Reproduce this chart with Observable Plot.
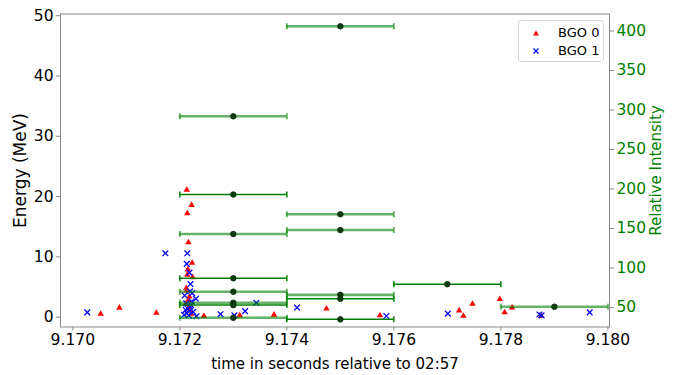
<!DOCTYPE html>
<html><head><meta charset="utf-8">
<script src="https://cdn.jsdelivr.net/npm/d3@7"></script>
<script src="https://cdn.jsdelivr.net/npm/@observablehq/plot@0.6"></script>
<style>
body{margin:0;background:#fff;font-family:"DejaVu Sans",sans-serif}
#wrap{position:relative;width:674px;height:375px}
.legend{position:absolute;left:518px;top:20px;width:84px;height:40px;border:1px solid #d6d6d6;border-radius:3px;background:rgba(255,255,255,0.85);font-size:13px;color:#000;font-family:"DejaVu Sans",sans-serif}
.legend .row{position:absolute;left:0;height:16px;line-height:16px;white-space:nowrap}
.legend svg{position:absolute;left:13px;top:4px}
.legend span{position:absolute;left:39px;top:0}
</style></head><body><div id="wrap"></div>
<script>
// ---- scatter data: BGO 0 (red triangles)
const bgo0Time = [9.17052,9.17087,9.17156,9.17213,9.17222,9.17214,9.17216,9.17223,9.17215,9.17214,9.17224,9.17212,9.17213,9.17218,9.17216,9.17211,9.17216,9.17219,9.17221,9.17245,9.17312,9.17376,9.17474,9.17574,9.17722,9.17730,9.17747,9.17798,9.17807,9.17821,9.17875];
const bgo0Energy = [0.55,1.55,0.7,21.1,18.6,17.2,12.4,9.0,7.9,7.0,6.6,4.8,4.4,3.4,2.8,2.2,1.55,1.2,0.55,0.2,0.3,0.4,1.4,0.3,1.1,0.2,2.2,3.0,0.8,1.6,0.2];
// ---- scatter data: BGO 1 (blue crosses)
const bgo1Time = [9.17027,9.17173,9.17214,9.17213,9.17218,9.17220,9.17219,9.17223,9.17209,9.17230,9.17222,9.17212,9.17221,9.17219,9.17215,9.17211,9.17218,9.17225,9.17213,9.17208,9.17231,9.17217,9.17276,9.17302,9.17322,9.17343,9.17419,9.17586,9.17701,9.17872,9.17876,9.17966];
const bgo1Energy = [0.8,10.6,10.6,8.85,7.4,5.5,4.3,4.0,3.6,3.05,2.6,2.3,2.0,1.8,1.4,1.2,1.0,0.9,0.65,0.4,0.15,0.3,0.5,0.3,1.0,2.4,1.6,0.2,0.6,0.45,0.3,0.8];
// ---- relative intensity per time bin (two overlaid series)
const binHalfWidth = 0.001;
const seriesATime = [9.173,9.173,9.173,9.175,9.175,9.177];
const seriesAIntensity = [193,87,53,61,35,79.5];
const seriesBTime = [9.175,9.173,9.175,9.175,9.173,9.173,9.173,9.173,9.175,9.179];
const seriesBIntensity = [406,292,168,148,143,70,56,37,66,51];
// ---- axes
const xTicks = [9.170,9.172,9.174,9.176,9.178,9.180];
const energyTicks = [0,10,20,30,40,50];
const intensityTicks = [50,100,150,200,250,300,350,400];
const xDomain = [9.16977,9.18003];
const energyDomain = [-1.625,50.28];
const intensityDomain = [25.3,421.5];

const toE = I => energyDomain[0] + (I - intensityDomain[0]) / (intensityDomain[1] - intensityDomain[0]) * (energyDomain[1] - energyDomain[0]);
const toI = E => intensityDomain[0] + (E - energyDomain[0]) / (energyDomain[1] - energyDomain[0]) * (intensityDomain[1] - intensityDomain[0]);

const bgo0 = bgo0Time.map((t,i)=>({t, e:bgo0Energy[i]}));
const bgo1 = bgo1Time.map((t,i)=>({t, e:bgo1Energy[i]}));
const binsA = seriesATime.map((t,i)=>({t, lo:t-binHalfWidth, hi:t+binHalfWidth, e:toE(seriesAIntensity[i])}));
const binsB = seriesBTime.map((t,i)=>({t, lo:t-binHalfWidth, hi:t+binHalfWidth, e:toE(seriesBIntensity[i])}));
const capsA = binsA.flatMap(d=>[{t:d.lo,e:d.e},{t:d.hi,e:d.e}]);
const capsB = binsB.flatMap(d=>[{t:d.lo,e:d.e},{t:d.hi,e:d.e}]);
const capSymbol = {draw(ctx,size){const r=Math.sqrt(size/Math.PI);ctx.moveTo(0,-r);ctx.lineTo(0,r);}};

const font = "DejaVu Sans";
const chart = Plot.plot({
  width: 674, height: 375,
  marginLeft: 60, marginRight: 65, marginTop: 13.5, marginBottom: 48.5,
  style: {fontFamily: font, background: "white", overflow: "visible"},
  x: {type: "linear", domain: xDomain, axis: null},
  y: {type: "linear", domain: energyDomain, axis: null},
  marks: [
    Plot.dot(bgo0, {x:"t", y:"e", symbol:"triangle", fill:"red", r:2.4}),
    Plot.dot(bgo1, {x:"t", y:"e", symbol:"times", stroke:"blue", r:2.7, strokeWidth:1.3}),
    Plot.ruleY(binsB, {x1:"lo", x2:"hi", y:"e", stroke:"green", strokeOpacity:0.6, strokeWidth:2.6}),
    Plot.dot(capsB, {x:"t", y:"e", symbol:capSymbol, r:3, stroke:"green", strokeOpacity:0.6, strokeWidth:2}),
    Plot.ruleY(binsA, {x1:"lo", x2:"hi", y:"e", stroke:"green", strokeWidth:1.5}),
    Plot.dot(capsA, {x:"t", y:"e", symbol:capSymbol, r:3, stroke:"green", strokeWidth:1.5}),
    Plot.dot(binsB, {x:"t", y:"e", r:2.8, fill:"#0d3d0d", stroke:"#062806", strokeWidth:0.8}),
    Plot.dot(binsA, {x:"t", y:"e", r:2.8, fill:"#0d3d0d", stroke:"#062806", strokeWidth:0.8}),
    Plot.frame({stroke:"#8a8a8a"}),
    Plot.axisX({anchor:"bottom", ticks:xTicks, tickSize:4, tickPadding:3, tickFormat:d3.format(".3f"), fontSize:15.5, stroke:"#8a8a8a", fill:"black", label:null}),
    Plot.axisY({anchor:"left", ticks:energyTicks, tickSize:4, tickPadding:3, tickFormat:d=>String(d), fontSize:15.5, stroke:"#8a8a8a", fill:"black", label:null}),
    Plot.axisY({anchor:"right", ticks:intensityTicks.map(toE), tickSize:4, tickPadding:3, tickFormat:d=>String(Math.round(toI(d))), fontSize:15.5, stroke:"#8a8a8a", fill:"green", label:null}),
    Plot.axisY({anchor:"left", ticks:[], tickSize:0, label:"Energy (MeV)", labelAnchor:"center", labelOffset:47, labelArrow:"none", fontSize:17, fill:"black"}),
    Plot.axisY({anchor:"right", ticks:[], tickSize:0, label:"Relative Intensity", labelAnchor:"center", labelOffset:51, labelArrow:"none", fontSize:15, fill:"green"}),
    Plot.axisX({anchor:"bottom", ticks:[], tickSize:0, label:"time in seconds relative to 02:57", labelAnchor:"center", labelOffset:42, labelArrow:"none", fontSize:15, fill:"black"})
  ]
});
const wrap = document.getElementById("wrap");
wrap.appendChild(chart);
const legend = document.createElement("div");
legend.className = "legend";
legend.innerHTML = `
<div class="row" style="top:4px;width:84px"><svg width="8" height="8"><path d="M4,1.5L7,6.5L1,6.5Z" fill="red"/></svg><span>BGO 0</span></div>
<div class="row" style="top:22px;width:84px"><svg width="8" height="8"><path d="M1.5,1.5L6.5,6.5M6.5,1.5L1.5,6.5" stroke="blue" stroke-width="1.2"/></svg><span>BGO 1</span></div>`;
wrap.appendChild(legend);
</script></body></html>
